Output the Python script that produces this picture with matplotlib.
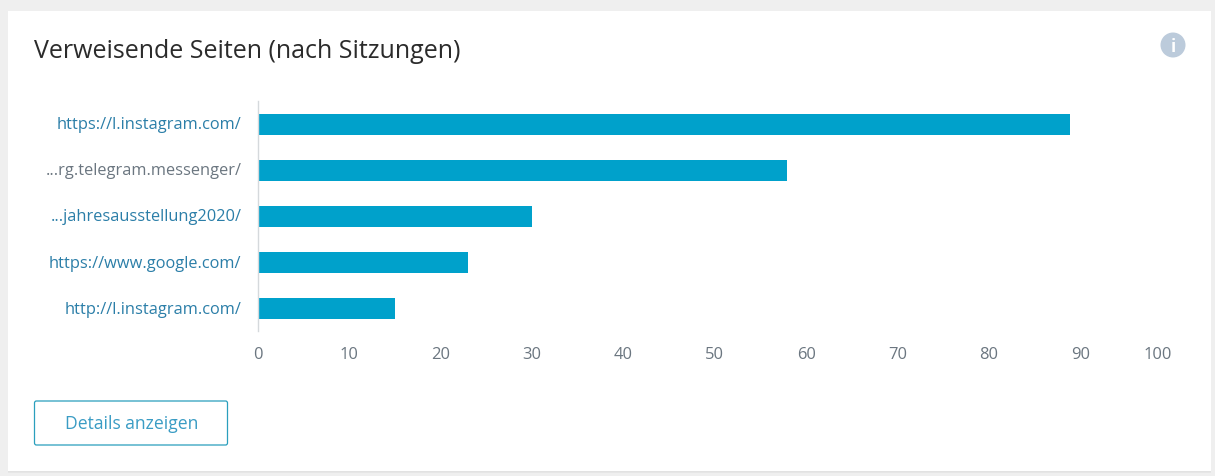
import matplotlib
matplotlib.use("Agg")
import matplotlib.pyplot as plt
from matplotlib.patches import Rectangle, FancyBboxPatch, Circle
from matplotlib.transforms import ScaledTranslation

categories = ["https://l.instagram.com/", "...rg.telegram.messenger/", "...jahresausstellung2020/",
              "https://www.google.com/", "http://l.instagram.com/"]
values = [89, 58, 30, 23, 15]
label_colors = ["#2b7ea8", "#6b7680", "#2b7ea8", "#2b7ea8", "#2b7ea8"]
xticks = [0, 10, 20, 30, 40, 50, 60, 70, 80, 90, 100]
title = "Verweisende Seiten (nach Sitzungen)"
button = "Details anzeigen"

W, H = 1215, 477
plt.rcParams['font.family'] = ['Open Sans', 'DejaVu Sans']
fig = plt.figure(figsize=(W / 100, H / 100), dpi=100, facecolor="#efefef")

bg = fig.add_axes([0, 0, 1, 1], zorder=0)
bg.set_xlim(0, W); bg.set_ylim(H, 0); bg.axis("off")
for off, col in [(2, "#e6e6e6"), (1, "#e2e2e2")]:
    bg.add_patch(Rectangle((8, 12 + off), 1203, 460, fc=col, ec="none"))
bg.add_patch(Rectangle((8, 12), 1203, 460, fc="white", ec="none"))
bg.text(34, 51, title, fontsize=18, color="#2b2b2b", va="center", ha="left")
bg.add_patch(Circle((1173, 46), 12.5, fc="#bccbdb", ec="none"))
bg.text(1173, 46.5, "i", fontsize=12, fontweight="bold", color="white", va="center", ha="center")
bg.add_patch(FancyBboxPatch((34.5, 402), 193, 44, boxstyle="round,pad=0,rounding_size=2",
                            fc="white", ec="#2a9fbd", lw=0.9))
bg.text(131.5, 424, button, fontsize=12.65, color="#3a9cc4", va="center", ha="center")

x0, x1 = 258, 1170
y0, y1 = 102, 332
ax = fig.add_axes([x0 / W, 1 - y1 / H, (x1 - x0) / W, (y1 - y0) / H], zorder=1)
ax.patch.set_alpha(0)
ypos = list(range(len(categories)))
ax.barh(ypos, values, height=21 / 46, color="#00a1cb", linewidth=0)
ax.set_xlim(0, 100)
ax.set_ylim(len(categories) - 0.5, -0.5)
for s in ["top", "right", "bottom"]:
    ax.spines[s].set_visible(False)
ax.spines["left"].set_color("#d5d9dc")
ax.spines["left"].set_linewidth(1)
ax.set_yticks(ypos)
ax.set_yticklabels(categories, fontsize=11.8)
ax.tick_params(axis="y", length=0, pad=12)
for lab, c in zip(ax.get_yticklabels(), label_colors):
    lab.set_color(c)
    lab.set_transform(lab.get_transform() + ScaledTranslation(0, 1.5 / 100, fig.dpi_scale_trans))
ax.set_xticks(xticks)
ax.set_xticklabels([str(t) for t in xticks], fontsize=11.85, color="#6b7680")
ax.tick_params(axis="x", length=0, pad=10.5)
for lab, t in zip(ax.get_xticklabels(), xticks):
    lab.set_transform(lab.get_transform() + ScaledTranslation(0.015 * t / 100, 0, fig.dpi_scale_trans))
ax.get_xticklabels()[-1].set_horizontalalignment("right")
fig.savefig("out.png", dpi=100, facecolor=fig.get_facecolor())
